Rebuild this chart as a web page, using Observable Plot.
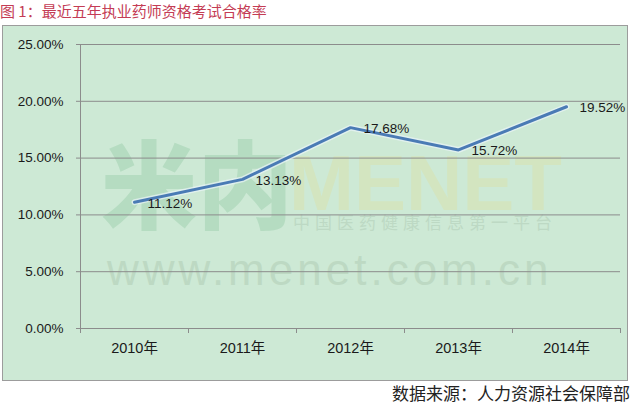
<!DOCTYPE html>
<html>
<head>
<meta charset="utf-8">
<script src="https://cdn.jsdelivr.net/npm/d3@7"></script>
<script src="https://cdn.jsdelivr.net/npm/@observablehq/plot@0.6"></script>
<style>
  html, body { margin: 0; padding: 0; background: #ffffff; }
  body { width: 640px; height: 407px; position: relative; overflow: hidden; }
  #title { position: absolute; left: 0; top: 1px; font-family: "Noto Sans CJK SC", sans-serif; font-size: 15px; color: #c43c55; white-space: nowrap; line-height: 20px; }
  #frame { position: absolute; left: 2px; top: 25px; width: 624px; height: 354px; border: 1px solid #9c9c9c; background: #cde9d5; overflow: hidden; }
  .wm { position: absolute; white-space: nowrap; line-height: 1; }
  #chart { position: absolute; left: 0; top: 0; }
  #caption { position: absolute; right: 10px; top: 382px; font-family: "Noto Sans CJK SC", sans-serif; font-size: 17px; color: #222; white-space: nowrap; line-height: 22px; }
</style>
</head>
<body>
<div id="title">图 1：最近五年执业药师资格考试合格率</div>
<div id="frame">
  <div class="wm" style="left:98px; top:106px; font-family:'Noto Sans CJK SC',sans-serif; font-weight:900; font-size:96px; color:#b5dcc1;">米内</div>
  <div class="wm" style="left:286px; top:118px; font-family:'Liberation Sans',Arial,sans-serif; font-weight:bold; font-size:78px; color:#d3e5c0;">MENET</div>
  <div class="wm" style="left:290px; top:187px; font-family:'Noto Sans CJK SC',sans-serif; font-size:17px; letter-spacing:5px; color:#bdd9c4;">中国医药健康信息第一平台</div>
  <div class="wm" style="left:104px; top:222px; font-family:'Liberation Sans',Arial,sans-serif; font-size:44px; letter-spacing:4px; color:#bdd9c3;">www.menet.com.cn</div>
  <div id="chart"></div>
</div>
<div id="caption">数据来源：人力资源社会保障部</div>
<script>
const years = ["2010年", "2011年", "2012年", "2013年", "2014年"];
const rates = [0.1112, 0.1313, 0.1768, 0.1572, 0.1952];
const yTicks = [0, 0.05, 0.10, 0.15, 0.20, 0.25];
const xIndex = years.map((d, i) => i);
const xBounds = [-0.5, 0.5, 1.5, 2.5, 3.5, 4.5];

const pct = d => (d * 100).toFixed(2) + "%";

const chart = Plot.plot({
  width: 624,
  height: 354,
  marginLeft: 77,
  marginRight: 7,
  marginTop: 18,
  marginBottom: 52,
  style: { background: "transparent", fontFamily: "'Liberation Sans', 'Noto Sans CJK SC', sans-serif", fontSize: "13.5px", color: "#1a1a1a" },
  x: { domain: [-0.5, 4.5], axis: null },
  y: { domain: [0, 0.25], axis: null },
  marks: [
    Plot.ruleY(yTicks, { x1: -0.5, x2: 4.5, stroke: "#8c8c8c", strokeWidth: 1 }),
    Plot.ruleX([-0.5], { y1: 0, y2: 0.25, stroke: "#8c8c8c" }),
    Plot.axisY(yTicks, { anchor: "left", tickSize: 4, tickPadding: 13, tickFormat: pct, stroke: "#8c8c8c", fill: "#1a1a1a", fontSize: 13.5 }),
    Plot.axisX(xBounds, { anchor: "bottom", tickSize: 5, tickFormat: () => "", stroke: "#8c8c8c" }),
    Plot.axisX(xIndex, { anchor: "bottom", tickSize: 0, tickPadding: 14, tickFormat: i => years[i], fill: "#1a1a1a", fontSize: 14.5 }),
    Plot.line(rates, { x: (d, i) => i, y: d => d, stroke: "#eaf4f8", strokeOpacity: 0.7, strokeWidth: 6 }),
    Plot.line(rates, { x: (d, i) => i, y: d => d, stroke: "#4a7bb5", strokeWidth: 3 }),
    Plot.text(rates, { x: (d, i) => i, y: d => d, text: pct, textAnchor: "start", dx: 13, dy: 1, fill: "#1a1a1a", fontSize: 13.5 })
  ]
});
document.getElementById("chart").appendChild(chart);
</script>
</body>
</html>
